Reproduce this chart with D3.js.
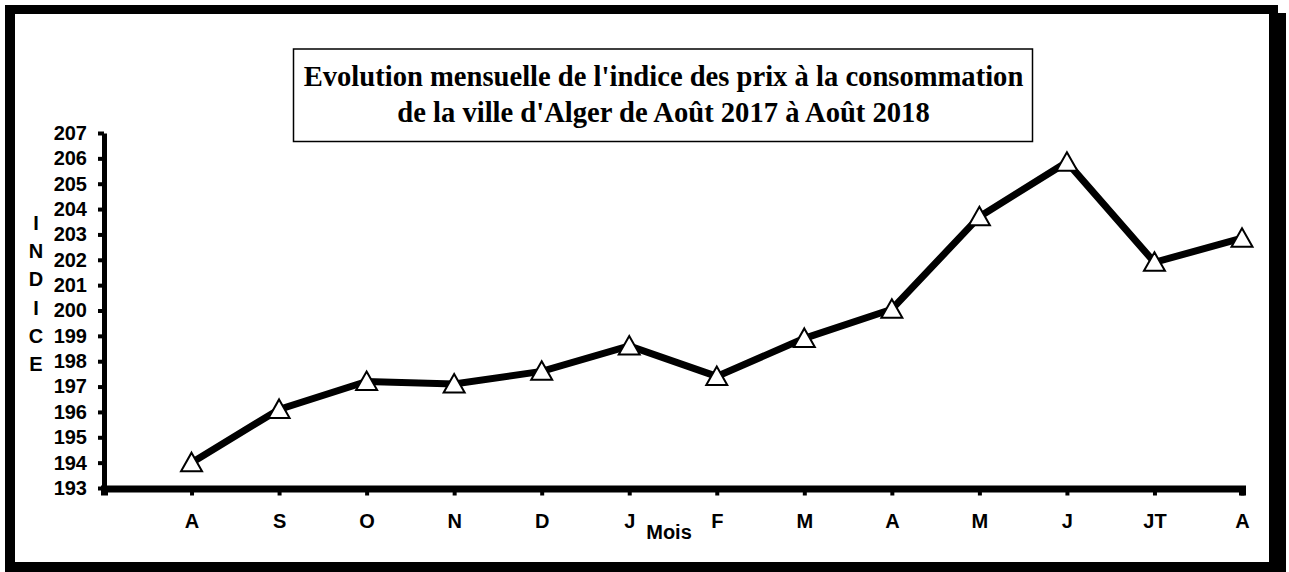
<!DOCTYPE html>
<html>
<head>
<meta charset="utf-8">
<script src="https://cdn.jsdelivr.net/npm/d3@7"></script>
<style>
html,body{margin:0;padding:0;background:#fff;}
svg{display:block;}
</style>
</head>
<body>
<svg id="chart" width="1289" height="572"></svg>
<script>
const months = ["A","S","O","N","D","J","F","M","A","M","J","JT","A"];
const indice = [194.0, 196.1, 197.2, 197.1, 197.6, 198.6, 197.4, 198.9, 200.05, 203.7, 205.85, 201.9, 202.85];
const yTicks = [193,194,195,196,197,198,199,200,201,202,203,204,205,206,207];
const titleLines = ["Evolution mensuelle de l'indice des prix à la consommation", "de la ville d'Alger de Août 2017 à Août 2018"];
const yLabel = ["I","N","D","I","C","E"];
const xLabel = "Mois";

const svg = d3.select("#chart");
const sans = "'Liberation Sans',Arial,sans-serif";

// frame with shadow
svg.append("rect").attr("x",14).attr("y",13).attr("width",1272).attr("height",570).attr("fill","#000");
svg.append("rect").attr("x",5).attr("y",5).attr("width",1273).attr("height",567).attr("fill","#000");
svg.append("rect").attr("x",15).attr("y",14).attr("width",1254).attr("height",548).attr("fill","#fff");

// title box
svg.append("rect").attr("x",293.5).attr("y",49).attr("width",739).attr("height",92.5)
  .attr("fill","#fff").attr("stroke","#000").attr("stroke-width",1.5);
const tt = svg.append("g").attr("font-family","'Liberation Serif','Times New Roman',serif")
  .attr("font-weight","bold").attr("font-size",28.6).attr("text-anchor","middle");
titleLines.forEach((t,i)=>{
  tt.append("text").attr("x",663.5).attr("y",86 + i*36).text(t);
});

const x = d3.scaleLinear().domain([-1, months.length-1]).range([104, 1242]);
const y = d3.scaleLinear().domain([193, 207]).range([488, 133]);

// y axis
const gy = svg.append("g").attr("transform","translate(104,0)")
  .call(d3.axisLeft(y).tickValues(yTicks).tickFormat(d3.format("d")).tickSize(6).tickSizeOuter(0).tickPadding(11));
gy.select(".domain").attr("stroke-width",5).attr("stroke","#000");
gy.selectAll(".tick line").attr("stroke-width",4).attr("stroke","#000");
gy.selectAll(".tick text").attr("font-family",sans)
  .attr("font-weight","bold").attr("font-size",20).attr("fill","#000");

// x axis
const gx = svg.append("g").attr("transform","translate(0,488.5)")
  .call(d3.axisBottom(x).tickValues(d3.range(months.length)).tickFormat(i=>months[i]).tickSize(7).tickSizeOuter(7).tickPadding(18));
gx.select(".domain").attr("stroke-width",7).attr("stroke","#000");
gx.selectAll(".tick line").attr("stroke-width",4).attr("stroke","#000");
gx.selectAll(".tick text").attr("font-family",sans)
  .attr("font-weight","bold").attr("font-size",20).attr("fill","#000");

// axis titles
svg.append("text").attr("x",669).attr("y",539).attr("text-anchor","middle")
  .attr("font-family",sans).attr("font-weight","bold").attr("font-size",20)
  .text(xLabel);
const yl = svg.append("g").attr("font-family",sans)
  .attr("font-weight","bold").attr("font-size",20).attr("text-anchor","middle");
yLabel.forEach((c,i)=>{
  yl.append("text").attr("x",36).attr("y",230 + i*28.2).text(c);
});

// line
const line = d3.line().x((d,i)=>x(i)).y(d=>y(d));
svg.append("path").datum(indice).attr("d",line).attr("fill","none")
  .attr("stroke","#000").attr("stroke-width",7).attr("stroke-linejoin","miter");

// markers
const tri = "M0,-10L10.5,8.5L-10.5,8.5Z";
svg.selectAll(".mk").data(indice).join("path").attr("class","mk")
  .attr("transform",(d,i)=>`translate(${x(i)},${y(d)})`)
  .attr("d",tri).attr("fill","#fff").attr("stroke","#000").attr("stroke-width",2);
</script>
</body>
</html>
